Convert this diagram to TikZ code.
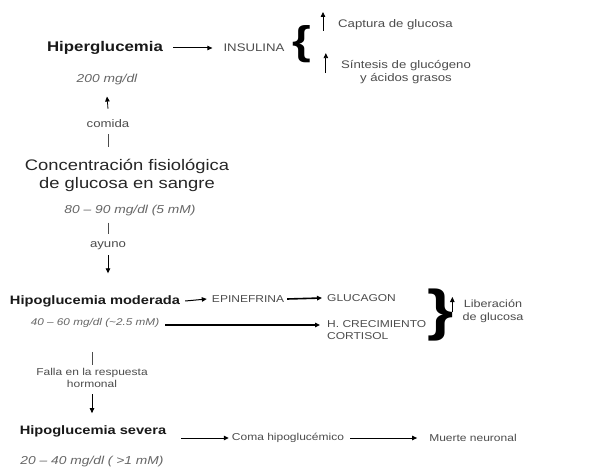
\documentclass[tikz,border=0pt]{standalone}
\usepackage{fontspec}
\setmainfont{Liberation Sans}[FakeStretch=1.2]
\usetikzlibrary{arrows.meta}

\tikzset{
  big/.style={inner sep=0, text=black!90, font=\bfseries\fontsize{12.2}{15}\selectfont},
  conc/.style={inner sep=0, text=black!85, align=center, font=\fontsize{15.3}{18}\selectfont},
  lbl/.style={inner sep=0, text=black!70, font=\fontsize{10}{12.5}\selectfont},
  toplbl/.style={lbl, font=\fontsize{11}{13.5}\selectfont},
  val/.style={inner sep=0, text=black!60, font=\itshape\fontsize{11.5}{14}\selectfont},
  arr/.style={-{Triangle[length=5pt,width=4.5pt]}, line width=1pt},
  plain/.style={line width=0.8pt, black!70}
}

\begin{document}
\begin{tikzpicture}[x=1pt,y=-1pt]
  \useasboundingbox[fill=white] (0,0) rectangle (616,468);

  % Hiperglucemia
  \node[big, font=\bfseries\fontsize{14}{16}\selectfont] (hiper) at (105,48) {Hiperglucemia};
  \node[toplbl] (insul) at (254,48) {INSULINA};
  \node[inner sep=0, font=\bfseries\fontsize{40}{40}\selectfont] (lbrace) at (302,44) {\{};
  \node[toplbl, anchor=west] (capt) at (338,25) {Captura de glucosa};
  \node[toplbl, align=center] (sint) at (406,72) {Síntesis de glucógeno\\y ácidos grasos};
  \draw[arr] ([xshift=10]hiper.east) -- ([xshift=-11]insul.west);
  \draw[arr, line width=0.8pt] ([xshift=-15,yshift=-6]capt.west) -- ++(0,-19);
  \draw[arr, line width=0.8pt] ([xshift=-15,yshift=11]sint.west |- sint.south) -- ++(0,-20);

  % Concentracion fisiologica
  \node[val] (v200) at (107,80) {200 mg/dl};
  \node[toplbl] (comida) at (108,124) {comida};
  \node[conc] (conc) at (127,175) {Concentración fisiológica\\de glucosa en sangre};
  \node[val] (v80) at (130,211) {80 -- 90 mg/dl (5 mM)};
  \node[toplbl] (ayuno) at (108,246) {ayuno};
  \draw[arr, line width=0.8pt] ([yshift=11]comida.north) -- ([yshift=-11]v200.south);
  \draw[plain] ([yshift=-6]comida.south) -- ++(0,13);
  \draw[plain] ([yshift=-6]v80.south -| ayuno) -- ++(0,11);
  \draw[arr, line width=0.8pt] ([yshift=-5]ayuno.south) -- ++(0,18);

  % Hipoglucemia moderada
  \node[big] (hipomod) at (95,301) {Hipoglucemia moderada};
  \node[lbl] (epi) at (248,299) {EPINEFRINA};
  \node[lbl, anchor=west] (gluc) at (327,298) {GLUCAGON};
  \node[val, font=\itshape\fontsize{9.8}{12}\selectfont] (v40) at (95,323) {40 -- 60 mg/dl (\textasciitilde 2.5 mM)};
  \node[lbl, anchor=west, align=left] (hcrec) at (327,330) {H. CRECIMIENTO\\CORTISOL};
  \node[inner sep=0, font=\bfseries\fontsize{56}{56}\selectfont] (rbrace) at (441,315) {\}};
  \node[lbl, align=center, font=\fontsize{10.5}{12.5}\selectfont] (liber) at (493,311) {Liberación\\de glucosa};
  \draw[arr] ([xshift=5]hipomod.east) -- ([xshift=-5]epi.west);
  \draw[arr, line width=1.6pt] ([xshift=3]epi.east) -- ([xshift=-5]gluc.west);
  \draw[arr, line width=1.2pt] ([xshift=6,yshift=-2]v40.east) -- ([xshift=-7,yshift=-2]v40.east -| hcrec.west);
  \draw[arr, line width=0.8pt] ([xshift=-10,yshift=-1]liber.west) -- ++(0,-15);

  % Hipoglucemia severa
  \node[lbl, align=center] (falla) at (92,378) {Falla en la respuesta\\hormonal};
  \node[big] (hiposev) at (93,431) {Hipoglucemia severa};
  \node[lbl] (coma) at (288,438) {Coma hipoglucémico};
  \node[lbl] (muerte) at (473,438) {Muerte neuronal};
  \node[val] (v20) at (92,462) {20 -- 40 mg/dl ( >1 mM)};
  \draw[plain] ([yshift=16]falla.north) -- ++(0,13);
  \draw[arr, line width=0.8pt] ([yshift=-6]falla.south) -- ++(0,19);
  \draw[arr] ([xshift=15,yshift=-7]hiposev.east) -- ([xshift=-3]coma.west);
  \draw[arr] ([xshift=6]coma.east) -- ([xshift=-12]muerte.west);
\end{tikzpicture}
\end{document}
